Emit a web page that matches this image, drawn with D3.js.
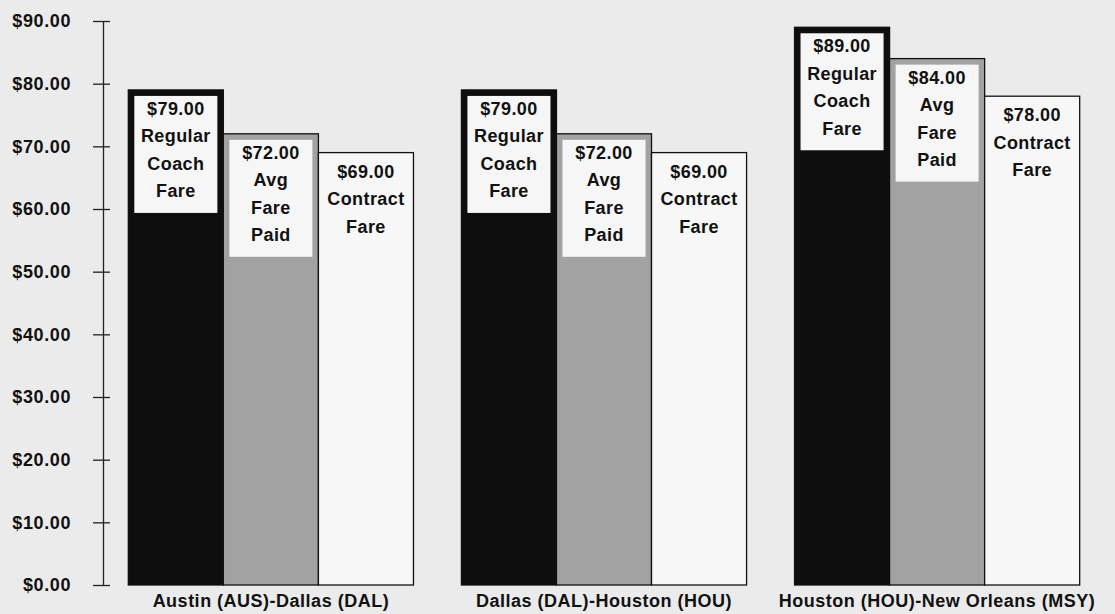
<!DOCTYPE html>
<html>
<head>
<meta charset="utf-8">
<script src="https://cdn.jsdelivr.net/npm/d3@7"></script>
<style>
  body { margin: 0; background: #ebebeb; }
  svg { display: block; }
  text { font-family: "Liberation Sans", Arial, sans-serif; font-weight: bold; fill: #111; }
</style>
</head>
<body>
<div id="chart"></div>
<script>
// Data
var routes = ['Austin (AUS)-Dallas (DAL)', 'Dallas (DAL)-Houston (HOU)', 'Houston (HOU)-New Orleans (MSY)'];
var series = ['regular', 'avg', 'contract'];
var seriesNames = [['Regular', 'Coach', 'Fare'], ['Avg', 'Fare', 'Paid'], ['Contract', 'Fare']];
var regularFare = [79, 79, 89];
var avgFarePaid = [72, 72, 84];
var contractFare = [69, 69, 78];
var yTicks = [0, 10, 20, 30, 40, 50, 60, 70, 80, 90];

var width = 1115;
var height = 614;

var svg = d3.select('#chart').append('svg')
    .attr('width', width)
    .attr('height', height);

var y = d3.scaleLinear().domain([0, 90]).range([585, 21]);

var x = d3.scaleBand()
    .domain(routes)
    .range([105, 1103])
    .paddingInner(0.144)
    .paddingOuter(0.07);

var xs = d3.scaleBand()
    .domain(series)
    .range([0, x.bandwidth()]);

var fills = { regular: '#0e0e0e', avg: '#a2a2a2', contract: '#f7f7f7' };
var fmt = function(v) { return '$' + d3.format('.2f')(v); };

// y axis
var yAxis = d3.axisLeft(y)
    .tickValues(yTicks)
    .tickFormat(fmt)
    .tickSize(10)
    .tickSizeOuter(0)
    .tickPadding(22);

var ax = svg.append('g')
    .attr('transform', 'translate(103,0)')
    .call(yAxis);
ax.select('.domain').attr('stroke', '#222').attr('stroke-width', 1.3);
ax.selectAll('.tick line').attr('x1', 7).attr('stroke', '#222').attr('stroke-width', 1.3);
ax.selectAll('.tick text')
    .attr('font-size', 18)
    .attr('font-family', '"Liberation Sans", Arial, sans-serif')
    .attr('font-weight', 'bold')
    .attr('letter-spacing', '0.6px')
    .attr('fill', '#111');

// rows
var rows = routes.map(function(r, i) {
  return [
    { route: r, key: 'regular', value: regularFare[i], names: seriesNames[0] },
    { route: r, key: 'avg', value: avgFarePaid[i], names: seriesNames[1] },
    { route: r, key: 'contract', value: contractFare[i], names: seriesNames[2] }
  ];
});

var groups = svg.selectAll('g.route')
    .data(rows)
    .enter().append('g')
    .attr('class', 'route')
    .attr('transform', function(d, i) { return 'translate(' + x(routes[i]) + ',0)'; });

var bars = groups.selectAll('g.bar')
    .data(function(d) { return d; })
    .enter().append('g')
    .attr('class', 'bar');

bars.append('rect')
    .attr('x', function(d) { return xs(d.key); })
    .attr('y', function(d) { return y(d.value); })
    .attr('width', xs.bandwidth())
    .attr('height', function(d) { return y(0) - y(d.value); })
    .attr('fill', function(d) { return fills[d.key]; })
    .attr('stroke', '#111')
    .attr('stroke-width', 1.3);

// white label box inside the dark bars
var boxH = 117;
bars.filter(function(d) { return d.key !== 'contract'; })
    .append('rect')
    .attr('x', function(d) { return xs(d.key) + 6; })
    .attr('y', function(d) { return y(d.value) + 6; })
    .attr('width', xs.bandwidth() - 12)
    .attr('height', boxH)
    .attr('fill', '#f6f6f6');

bars.append('text')
    .attr('text-anchor', 'middle')
    .attr('font-size', 18)
    .attr('letter-spacing', '0.4px')
    .attr('x', function(d) { return xs(d.key) + xs.bandwidth() / 2; })
    .attr('y', function(d) { return y(d.value) + 25; })
    .selectAll('tspan')
    .data(function(d) { return [fmt(d.value)].concat(d.names); })
    .enter().append('tspan')
    .attr('x', function() { return this.parentNode.getAttribute('x'); })
    .attr('dy', function(d, i) { return i ? 27.5 : 0; })
    .text(function(d) { return d; });

// category labels
svg.selectAll('text.cat')
    .data(routes)
    .enter().append('text')
    .attr('class', 'cat')
    .attr('text-anchor', 'middle')
    .attr('font-size', 18)
    .attr('letter-spacing', '0.5px')
    .attr('x', function(d) { return x(d) + x.bandwidth() / 2; })
    .attr('y', 607)
    .text(function(d) { return d; });
</script>
</body>
</html>
